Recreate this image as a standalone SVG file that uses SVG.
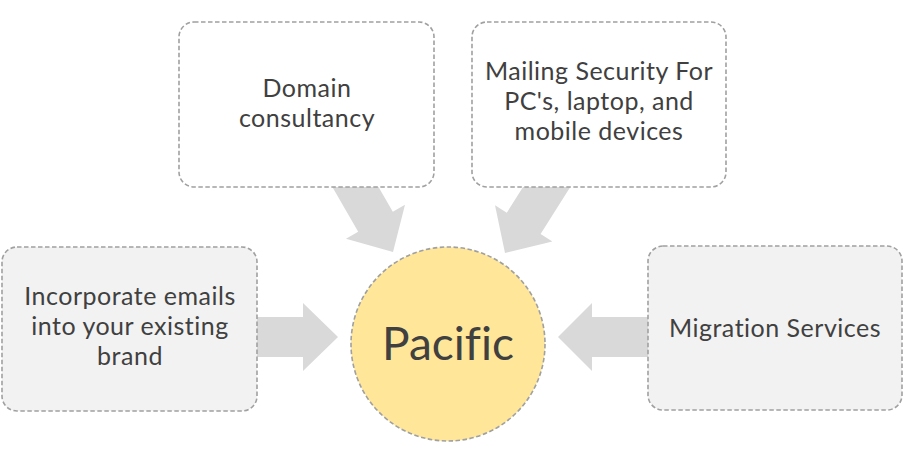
<svg xmlns="http://www.w3.org/2000/svg" width="904" height="463" viewBox="0 0 904 463">
<style>
.box{stroke:#a0a0a0;stroke-width:1.6;stroke-dasharray:4.5 2.5}
.w{fill:#ffffff}
.g{fill:#f2f2f2}
.arrow{fill:#d9d9d9}
.t{font-family:Lato,"Open Sans","Liberation Sans",sans-serif;font-size:25px;fill:#404040;text-anchor:middle;letter-spacing:0.5px;font-variant-ligatures:none}
.big{font-size:46px;letter-spacing:0}
</style>
<rect width="904" height="463" fill="#ffffff"/>
<g id="connectors">
<polygon class="arrow" points="328.2,179.7 358.2,231.7 346,238.7 393,252 405,204.7 392.8,211.7 362.8,159.7"/>
<polygon class="arrow" points="543.6,154.4 506.8,212.7 495,205.3 505,253 552.4,241.5 540.6,234 577.4,175.8"/>
<polygon class="arrow" points="250,317 303,317 303,303 338,337 303,371 303,357 250,357"/>
<polygon class="arrow" points="655,317 592,317 592,303 558,337 592,371 592,357 655,357"/>
</g>
<g id="domain">
<rect class="box w" x="179" y="22" width="255" height="165" rx="15"/>
<text class="t" x="307" y="97">Domain</text>
<text class="t" x="307" y="127">consultancy</text>
</g>
<g id="mailing">
<rect class="box w" x="472" y="22" width="254" height="165" rx="15"/>
<text class="t" x="599" y="80">Mailing Security For</text>
<text class="t" x="599" y="110">PC's, laptop, and</text>
<text class="t" x="599" y="140">mobile devices</text>
</g>
<g id="incorporate">
<rect class="box g" x="2" y="247" width="255" height="164" rx="15"/>
<text class="t" x="130" y="305">Incorporate emails</text>
<text class="t" x="130" y="335">into your existing</text>
<text class="t" x="130" y="365">brand</text>
</g>
<g id="migration">
<rect class="box g" x="648" y="246" width="254" height="164" rx="15"/>
<text class="t" x="775" y="337">Migration Services</text>
</g>
<g id="pacific">
<circle class="box" cx="448" cy="344" r="97" fill="#ffe699"/>
<text class="t big" x="448" y="360">Pacific</text>
</g>
</svg>
